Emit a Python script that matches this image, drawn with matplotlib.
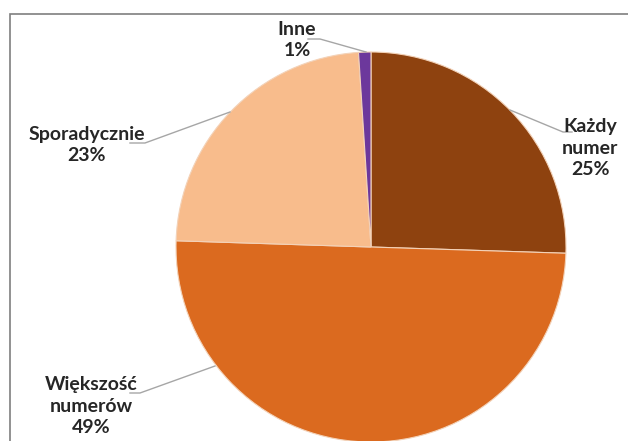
import matplotlib
matplotlib.use("Agg")
import matplotlib.pyplot as plt
from matplotlib.patches import Rectangle

categories = ["Każdy\nnumer", "Większość\nnumerów", "Sporadycznie", "Inne"]
shares = [25, 49, 23, 1]
colors = ["#8E420F", "#DB6A1F", "#F8BC8C", "#6C389C"]

# label centres and leader lines, in pixel coords from the top-left
label_pos = [(590, 148), (91, 406), (87, 145), (297, 40)]
leaders = [
    [(510, 110), (563, 132), (572, 132)],
    [(215, 366), (140, 393), (130, 393)],
    [(230, 112), (145, 143), (130, 143)],
    [(366, 52), (320, 39), (308, 39)],
]

W, H = 628, 441
fig = plt.figure(figsize=(W / 100, H / 100), dpi=100)
ax = fig.add_axes([0, 0, 1, 1])

# chart frame, runs off the right and bottom edges
ax.add_patch(Rectangle((9.5, -10), W, H - 13.5 + 10, fill=False,
                       ec="#7f7f7f", lw=1.2, zorder=0))

ax.pie(shares, colors=colors, startangle=90, counterclock=False,
       center=(371, H - 247), radius=195, frame=True,
       wedgeprops=dict(edgecolor="#f3d2b8", linewidth=0.8))
ax.set_xlim(0, W)
ax.set_ylim(0, H)
ax.set_aspect("equal")
ax.axis("off")

for name, val, (x, y), pts in zip(categories, shares, label_pos, leaders):
    ax.plot([p[0] for p in pts], [H - p[1] for p in pts],
            color="#a6a6a6", lw=1, zorder=3)
    ax.text(x, H - y, f"{name}\n{val}%", ha="center", va="center",
            fontsize=14, fontweight="bold", family=["Lato", "DejaVu Sans"],
            color="#262626", linespacing=1.3, zorder=4)

fig.savefig("out.png", dpi=100)
